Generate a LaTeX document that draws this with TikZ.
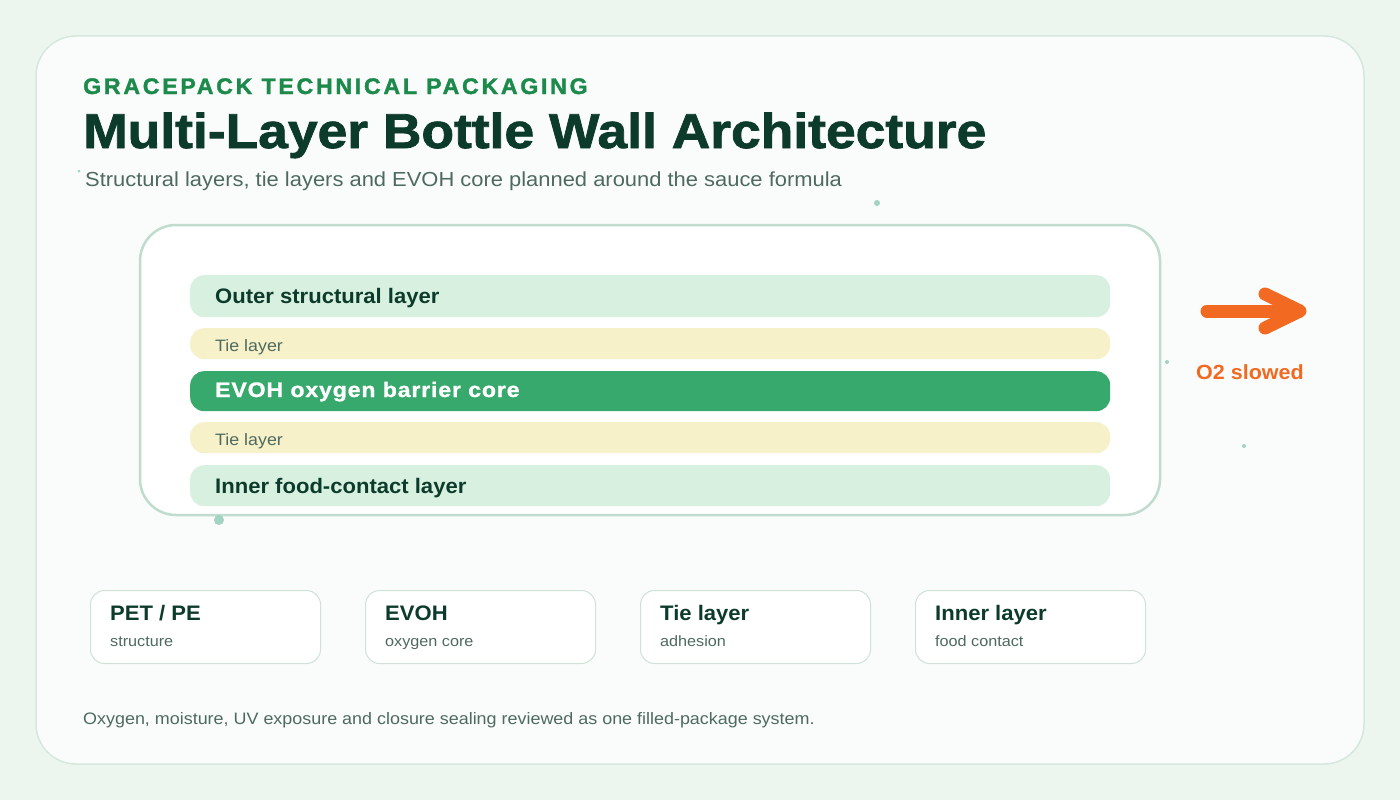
\documentclass[tikz,border=0pt]{standalone}
\usepackage{fontspec}
\setmainfont{Liberation Sans}
\newfontfamily\headfont[LetterSpace=12,FakeBold=1.5,FakeStretch=1.03]{Liberation Sans Bold}
\newfontfamily\titlefont[FakeBold=1.6,FakeStretch=1.09]{Liberation Sans Bold}
\newfontfamily\evohfont[LetterSpace=4,FakeBold=1,FakeStretch=1.1]{Liberation Sans Bold}
\newfontfamily\regwide[FakeStretch=1.08]{Liberation Sans}
\newfontfamily\boldwide[FakeStretch=1.05]{Liberation Sans Bold}
\definecolor{bgc}{HTML}{EDF5EF}
\definecolor{cardfill}{HTML}{FAFCFB}
\definecolor{cardline}{HTML}{D6E8DD}
\definecolor{headgreen}{HTML}{1B8A4B}
\definecolor{darkgreen}{HTML}{0D3B2B}
\definecolor{graytext}{HTML}{4E6A5F}
\definecolor{boxline}{HTML}{C0DCCF}
\definecolor{lightlayer}{HTML}{D8F0E0}
\definecolor{tiefill}{HTML}{F7F1CA}
\definecolor{evohfill}{HTML}{38A96D}
\definecolor{orangec}{HTML}{F26A22}
\definecolor{dotc}{HTML}{A3D3C1}
\definecolor{minicardline}{HTML}{CFE2D8}
\tikzset{
  layerbox/.style={rounded corners=14pt, minimum width=920pt, inner sep=0pt, anchor=north west},
  struct/.style={layerbox, fill=lightlayer},
  tiebox/.style={layerbox, fill=tiefill},
  evohbox/.style={layerbox, fill=evohfill},
  laylabel/.style={anchor=base west, inner sep=0pt, font=\boldwide\fontsize{21}{24}\selectfont, text=darkgreen},
  tielabel/.style={anchor=base west, inner sep=0pt, font=\regwide\fontsize{16.5}{20}\selectfont, text=graytext},
  minicard/.style={draw=minicardline, line width=1pt, fill=white, rounded corners=14pt, minimum width=230pt, minimum height=73pt, inner sep=0pt, anchor=north west},
  cardtitle/.style={anchor=base west, inner sep=0pt, font=\boldwide\fontsize{21}{24}\selectfont, text=darkgreen},
  cardsub/.style={anchor=base west, inner sep=0pt, font=\regwide\fontsize{15}{18}\selectfont, text=graytext},
  dot/.style={circle, fill=dotc, inner sep=0pt},
  arrowstroke/.style={orangec, line width=13pt, line cap=round, line join=round},
}
\begin{document}
\begin{tikzpicture}[x=1pt, y=-1pt]
\useasboundingbox (0,0) rectangle (1400,800);
\fill[bgc] (0,0) rectangle (1400,800);
% main card
\draw[draw=cardline, line width=1.5pt, fill=cardfill, rounded corners=40pt] (36,36) rectangle (1364,764);
% header texts
\node[anchor=base west, inner sep=0pt, text=headgreen, font=\headfont\fontsize{22.5}{26}\selectfont] (kicker) at (83,94) {GRACEPACK TECHNICAL PACKAGING};
\node[anchor=base west, inner sep=0pt, text=darkgreen, font=\titlefont\fontsize{49}{56}\selectfont] (title) at (83,148) {Multi-Layer Bottle Wall Architecture};
\node[anchor=base west, inner sep=0pt, text=graytext, font=\regwide\fontsize{20.3}{24}\selectfont] (subtitle) at (85,186) {Structural layers, tie layers and EVOH core planned around the sauce formula};
% dots
\node[dot, minimum size=3pt] (d1) at (79,171) {};
\node[dot, minimum size=6pt] (d2) at (877,203) {};
\node[dot, minimum size=4pt] (d3) at (1167,362) {};
\node[dot, minimum size=4pt] (d4) at (1244,446) {};
% inner box
\draw[draw=boxline, line width=2.5pt, fill=white, rounded corners=36pt] (140,225) rectangle (1160,515);
\node[dot, minimum size=10pt] (d5) at (219,520) {};
% layers
\node[struct, minimum height=42pt] (outer) at (190,275) {};
\node[laylabel] (outerlab) at (215,303) {Outer structural layer};
\node[tiebox, minimum height=31pt] (tie1) at (190,328) {};
\node[tielabel] (tie1lab) at (215,351) {Tie layer};
\node[evohbox, minimum height=40pt] (evoh) at (190,371) {};
\node[anchor=base west, inner sep=0pt, text=white, font=\evohfont\fontsize{21}{24}\selectfont] (evohlab) at (215,397) {EVOH oxygen barrier core};
\node[tiebox, minimum height=31pt] (tie2) at (190,422) {};
\node[tielabel] (tie2lab) at (215,445) {Tie layer};
\node[struct, minimum height=41pt] (inner) at (190,465) {};
\node[laylabel] (innerlab) at (215,493) {Inner food-contact layer};
% arrow
\coordinate (astart) at (1207,311);
\coordinate (aend) at (1296,311);
\draw[arrowstroke] (astart) -- (aend);
\coordinate (h1) at (1265,294);
\coordinate (h2) at (1300,311);
\coordinate (h3) at (1265,328);
\draw[arrowstroke] (h1) -- (h2) -- (h3);
\node[anchor=base, inner sep=0pt, text=orangec, font=\boldwide\fontsize{20.5}{24}\selectfont] (o2) at (1250,379) {O2 slowed};
% mini cards
\node[minicard] (c1) at (90,590) {};
\node[cardtitle] (c1t) at (110,620) {PET / PE};
\node[cardsub] (c1s) at (110,646) {structure};
\node[minicard] (c2) at (365,590) {};
\node[cardtitle] (c2t) at (385,620) {EVOH};
\node[cardsub] (c2s) at (385,646) {oxygen core};
\node[minicard] (c3) at (640,590) {};
\node[cardtitle] (c3t) at (660,620) {Tie layer};
\node[cardsub] (c3s) at (660,646) {adhesion};
\node[minicard] (c4) at (915,590) {};
\node[cardtitle] (c4t) at (935,620) {Inner layer};
\node[cardsub] (c4s) at (935,646) {food contact};
% footer
\node[anchor=base west, inner sep=0pt, text=graytext, font=\regwide\fontsize{16.6}{19}\selectfont] (footer) at (83,724) {Oxygen, moisture, UV exposure and closure sealing reviewed as one filled-package system.};
\end{tikzpicture}
\end{document}
